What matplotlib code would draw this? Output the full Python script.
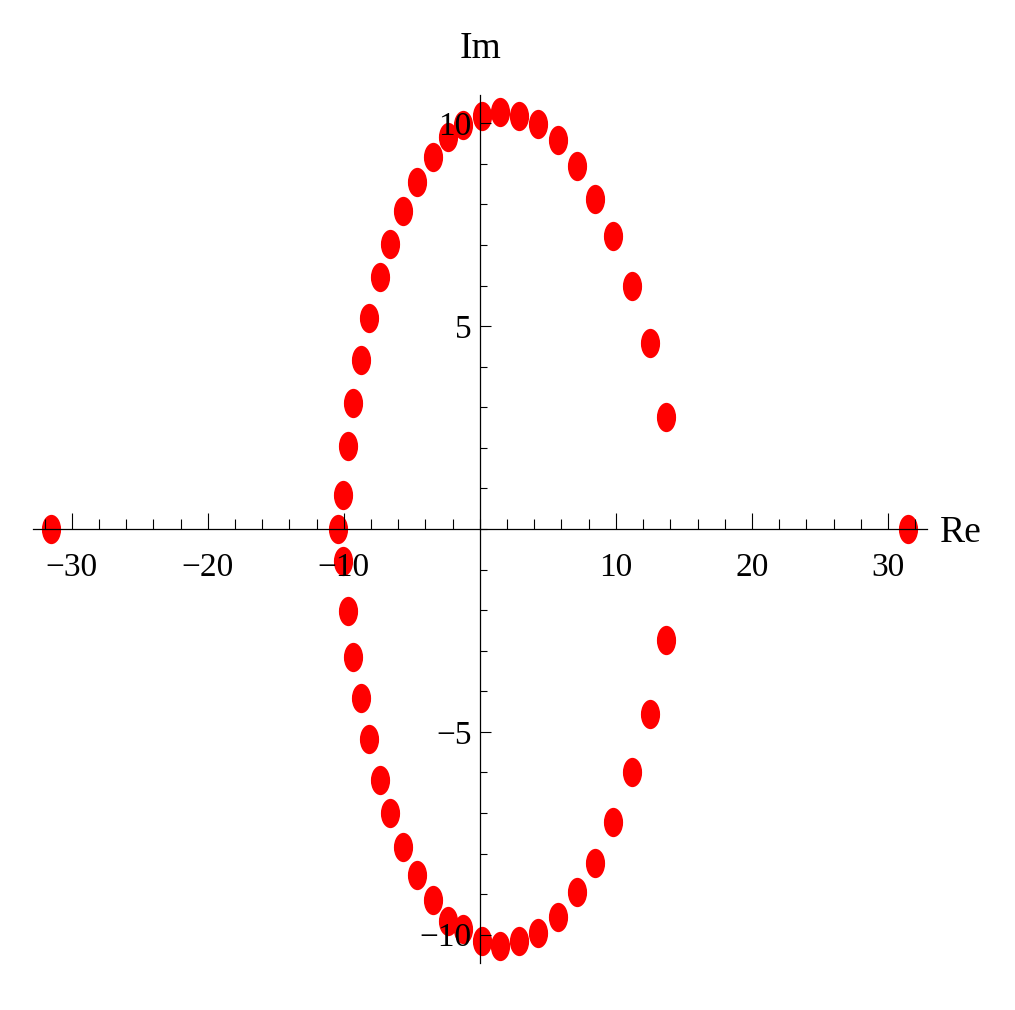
import matplotlib
matplotlib.use("Agg")
import matplotlib.pyplot as plt
from matplotlib.path import Path
from matplotlib.transforms import Affine2D
from matplotlib.ticker import MultipleLocator

plt.rcParams['font.family'] = ['Liberation Serif', 'DejaVu Serif']

re_vals = [
    0.19, 1.51, 2.89, 4.24, 5.78, 7.13, 8.50, 9.82, 11.18, 12.52, 13.72,
    0.19, 1.51, 2.89, 4.24, 5.78, 7.13, 8.50, 9.82, 11.18, 12.52, 13.72,
    -1.21, -2.31, -3.46, -4.63, -5.62, -6.57, -7.33, -8.12, -8.71, -9.29, -9.66, -10.03,
    -10.44,
    -10.03, -9.66, -9.29, -8.71, -8.12, -7.33, -6.57, -5.62, -4.63, -3.46, -2.31, -1.21,
    -31.52, 31.44,
]
im_vals = [
    10.18, 10.29, 10.18, 9.98, 9.58, 8.95, 8.14, 7.23, 6.00, 4.58, 2.75,
    -10.15, -10.28, -10.15, -9.96, -9.56, -8.95, -8.24, -7.22, -6.00, -4.57, -2.74,
    9.96, 9.67, 9.16, 8.55, 7.84, 7.02, 6.21, 5.19, 4.17, 3.11, 2.04, 0.83,
    0.0,
    -0.79, -2.02, -3.15, -4.17, -5.18, -6.19, -7.01, -7.83, -8.53, -9.15, -9.66, -9.86,
    0.0, 0.0,
]
x_major = [-30, -20, -10, 10, 20, 30]
y_major = [-10, -5, 5, 10]

fig = plt.figure(figsize=(10.15, 10.10), dpi=100)
ax = fig.add_axes([0.0325, 0.0465, 0.8808, 0.8595])
ax.set_xlim(-32.85, 32.87)
ax.set_ylim(-10.7, 10.7)

# elliptical marker (the picture is stretched vertically)
ell = Path.unit_circle().transformed(Affine2D().scale(0.655, 1.0))
ax.plot(re_vals, im_vals, linestyle='none', marker=ell, markersize=21.1,
        color='#ff0000', markeredgewidth=0, zorder=1)

for s in ['top', 'right']:
    ax.spines[s].set_visible(False)
ax.spines['left'].set_position(('data', 0))
ax.spines['bottom'].set_position(('data', 0))
for s in ['left', 'bottom']:
    ax.spines[s].set_linewidth(0.9)
    ax.spines[s].set_zorder(3)
ax.set_axisbelow(False)

ax.set_xticks(x_major)
ax.set_yticks(y_major)
ax.xaxis.set_minor_locator(MultipleLocator(2))
ax.yaxis.set_minor_locator(MultipleLocator(1))
ax.tick_params(axis='x', which='major', direction='in', length=11.5, width=0.8,
               labelsize=24, pad=17)
ax.tick_params(axis='x', which='minor', direction='in', length=7.2, width=0.8)
ax.tick_params(axis='y', which='major', direction='in', length=8, width=0.8,
               labelsize=24, pad=6)
ax.tick_params(axis='y', which='minor', direction='in', length=5.2, width=0.8)

fig.text(0.947, 0.473, 'Re', fontsize=27, ha='center', va='center')
fig.text(0.473, 0.9515, 'Im', fontsize=27, ha='center', va='center')

fig.savefig('out.png', dpi=100)
